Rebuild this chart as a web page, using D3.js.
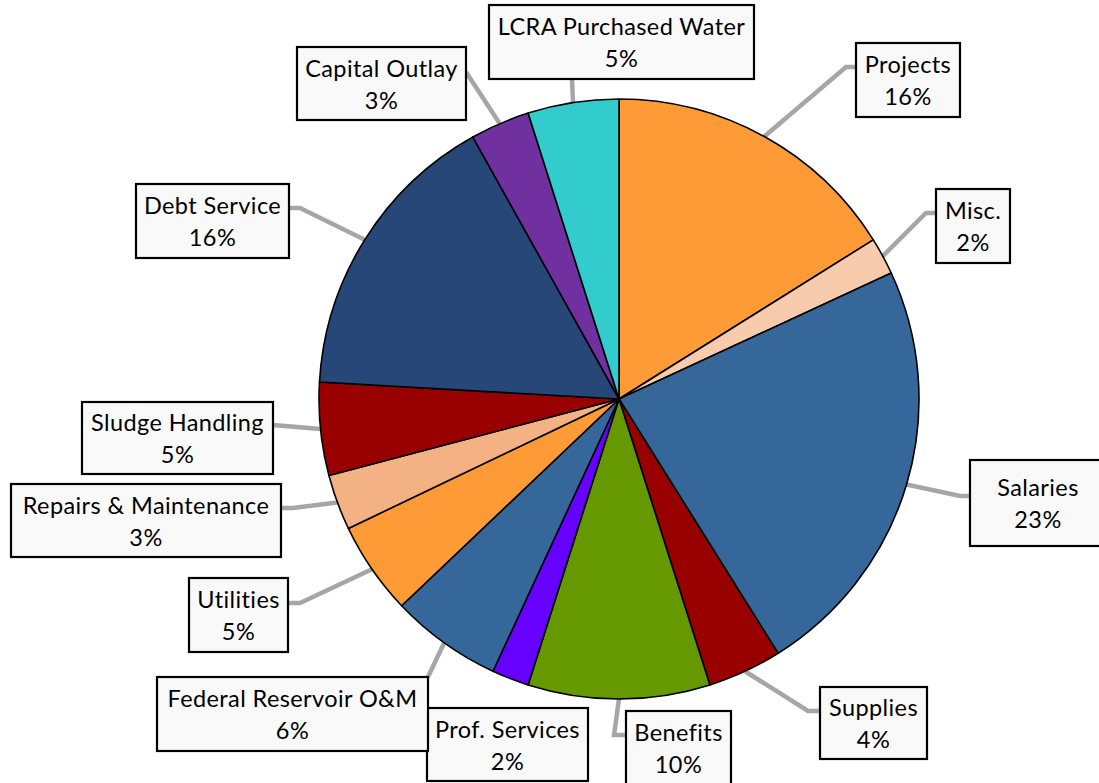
<html lang="en">
<head>
<meta charset="utf-8">
<title>Budget Pie</title>
<script src="https://cdn.jsdelivr.net/npm/d3@7"></script>
<style>
  body { margin: 0; background: #fff; }
  text { font-family: Lato, "Open Sans", sans-serif; fill: #000; }
</style>
</head>
<body></body>
<script type="text/javascript">

/*********************************************************************/
// Data

var categories = ["Projects", "Misc.", "Salaries", "Supplies", "Benefits", "Prof. Services",
	"Federal Reservoir O&M", "Utilities", "Repairs & Maintenance", "Sludge Handling",
	"Debt Service", "Capital Outlay", "LCRA Purchased Water"];
var shares = [16.1, 2.0, 23.0, 4.0, 9.8, 2.0, 6.0, 5.0, 3.0, 5.0, 16.0, 3.2, 4.9];
var colors = ["#fe9b37", "#f8cbad", "#35679a", "#990000", "#669900", "#6600ff",
	"#35679a", "#fe9b37", "#f4b183", "#990000", "#274778", "#7030a0", "#33cccc"];

// label boxes: [x, y, w, h], anchor on box, optional elbow
var boxes = [
	{b: [856, 43, 104, 74],  a: [856, 67],  e: [846, 67]},
	{b: [936, 189, 74, 74],  a: [936, 213], e: [926, 213]},
	{b: [970, 460, 136, 86], a: [970, 496], e: [960, 496]},
	{b: [820, 687, 107, 72], a: [820, 711], e: [808, 711]},
	{b: [626, 711, 105, 74], a: [626, 735], e: [614, 735]},
	{b: [427, 708, 161, 73], a: null,       e: null},
	{b: [157, 677, 271, 74], a: [428, 677], e: null},
	{b: [189, 578, 99, 74],  a: [288, 603], e: [300, 603]},
	{b: [11, 484, 270, 73],  a: [281, 508], e: [293, 508]},
	{b: [82, 402, 191, 72],  a: [273, 425], e: null},
	{b: [136, 184, 153, 74], a: [289, 208], e: [300, 208]},
	{b: [297, 47, 169, 73],  a: [466, 72],  e: null},
	{b: [489, 5, 265, 74],   a: [572, 79],  e: null}
];

/*********************************************************************/
// Canvas

var width = 1099, height = 783;
var cx = 619, cy = 399, radius = 300;

var svg = d3.select("body")
	.append("svg")
	.attr("width", width)
	.attr("height", height);

var pie = d3.pie().sort(null).value(function(d){ return d; });
var arcs = pie(shares);

var arc = d3.arc().innerRadius(0).outerRadius(radius);
var edge = d3.arc().innerRadius(radius).outerRadius(radius);

/*********************************************************************/
// Leader lines (under pie)

var lines = svg.append("g");
arcs.forEach(function(d, i){
	var lb = boxes[i];
	if(!lb.a) return;
	var c = edge.centroid(d);
	var pts = [[cx + c[0], cy + c[1]]];
	if(lb.e) pts.push(lb.e);
	pts.push(lb.a);
	lines.append("path")
		.attr("d", d3.line()(pts))
		.style("fill", "none")
		.style("stroke", "#a6a6a6")
		.style("stroke-width", 4.5);
});

/*********************************************************************/
// Slices

svg.append("g")
	.attr("transform", "translate(" + cx + "," + cy + ")")
	.selectAll("path")
	.data(arcs)
	.enter()
	.append("path")
	.attr("d", arc)
	.style("fill", function(d, i){ return colors[i]; })
	.style("stroke", "#000")
	.style("stroke-width", 1.6)
	.style("stroke-linejoin", "round");

/*********************************************************************/
// Label boxes

var fmt = d3.format(".0f");
var labels = svg.append("g");
arcs.forEach(function(d, i){
	var b = boxes[i].b;
	var g = labels.append("g");
	g.append("rect")
		.attr("x", b[0]).attr("y", b[1])
		.attr("width", b[2]).attr("height", b[3])
		.style("fill", "#f9f9f9")
		.style("stroke", "#000")
		.style("stroke-width", 2.2);
	var mx = b[0] + b[2]/2, my = b[1] + b[3]/2;
	g.append("text")
		.attr("x", mx).attr("y", my - 7)
		.attr("text-anchor", "middle")
		.style("font-size", "23.5px")
		.style("letter-spacing", "0.4px")
		.text(categories[i]);
	g.append("text")
		.attr("x", mx).attr("y", my + 25)
		.attr("text-anchor", "middle")
		.style("font-size", "23.5px")
		.style("letter-spacing", "0.4px")
		.text(fmt(d.data) + "%");
});

</script>
</html>
